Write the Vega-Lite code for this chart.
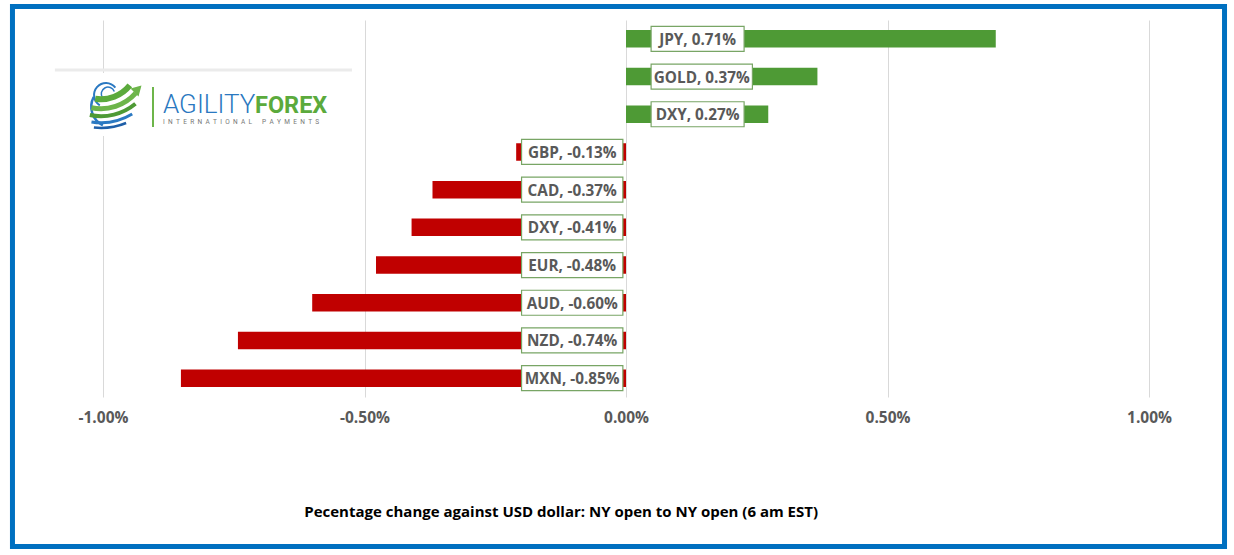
{
  "$schema": "https://vega.github.io/schema/vega-lite/v6.json",
  "width": 1046,
  "height": 377,
  "autosize": {"type": "none"},
  "padding": {"left": 103, "top": 20, "right": 85, "bottom": 158},
  "background": "white",
  "config": {
    "view": {"stroke": null},
    "locale": {"number": {"decimal": ".", "thousands": ",", "grouping": [3], "currency": ["$", ""], "minus": "-"}}
  },
  "resolve": {"scale": {"y": "independent"}},
  "layer": [
    {
      "data": {
        "values": [
          {"label": "JPY, 0.71%", "value": 0.00707},
          {"label": "GOLD, 0.37%", "value": 0.00366},
          {"label": "DXY, 0.27%", "value": 0.00272},
          {"label": "GBP, -0.13%", "value": -0.0021},
          {"label": "CAD, -0.37%", "value": -0.0037},
          {"label": "DXY, -0.41%", "value": -0.0041},
          {"label": "EUR, -0.48%", "value": -0.00478},
          {"label": "AUD, -0.60%", "value": -0.006},
          {"label": "NZD, -0.74%", "value": -0.00742},
          {"label": "MXN, -0.85%", "value": -0.00851}
        ]
      },
      "transform": [
        {"calculate": "(length(datum.label) * 8.3 + 10) / 52300", "as": "w"},
        {"calculate": "datum.value >= 0 ? 0.00048 : -0.00006 - datum.w", "as": "bx1"},
        {"calculate": "datum.value >= 0 ? 0.00048 + datum.w : -0.00006", "as": "bx2"},
        {"calculate": "(datum.bx1 + datum.bx2) / 2", "as": "bxm"}
      ],
      "encoding": {
        "y": {
          "field": "label", "type": "nominal", "sort": null, "axis": null,
          "scale": {"paddingInner": 0.535, "paddingOuter": 0.2675}
        }
      },
      "layer": [
        {
          "mark": {"type": "bar"},
          "encoding": {
            "x": {
              "field": "value", "type": "quantitative",
              "scale": {"domain": [-0.01, 0.01], "nice": false},
              "axis": {
                "values": [-0.01, -0.005, 0, 0.005, 0.01],
                "format": ".2%",
                "title": null,
                "domain": false,
                "ticks": false,
                "grid": true,
                "gridColor": "#D9D9D9",
                "gridWidth": 1,
                "labelFlush": false,
                "labelFont": "Open Sans",
                "labelFontSize": 15.5,
                "labelFontWeight": "bold",
                "labelColor": "#595959",
                "labelPadding": 13
              }
            },
            "color": {"condition": {"test": "datum.value >= 0", "value": "#4E9A35"}, "value": "#C00000"}
          }
        },
        {
          "mark": {"type": "bar", "fill": "white", "stroke": "#78A565", "strokeWidth": 1.2, "height": 25},
          "encoding": {
            "x": {"field": "bx1", "type": "quantitative", "scale": {"domain": [-0.01, 0.01], "nice": false}},
            "x2": {"field": "bx2"}
          }
        },
        {
          "mark": {"type": "text", "font": "Open Sans", "fontSize": 15.3, "fontWeight": "bold", "color": "#595959", "align": "center", "baseline": "middle", "dy": 1},
          "encoding": {
            "x": {"field": "bxm", "type": "quantitative", "scale": {"domain": [-0.01, 0.01], "nice": false}},
            "text": {"field": "label"}
          }
        }
      ]
    },
    {
      "data": {"values": [{}]},
      "layer": [
        {
          "mark": {"type": "rect", "fill": "white"},
          "encoding": {
            "x": {"datum": -0.01088, "type": "quantitative", "scale": {"domain": [-0.01, 0.01], "nice": false}},
            "x2": {"datum": -0.00524},
            "y": {"datum": 1.406, "type": "quantitative", "scale": {"domain": [0, 10], "reverse": true, "nice": false, "zero": false}, "axis": null},
            "y2": {"datum": 3.077}
          }
        },
        {
          "mark": {"type": "rule", "color": "#EBEBEB", "strokeWidth": 3},
          "encoding": {
            "x": {"datum": -0.01092, "type": "quantitative", "scale": {"domain": [-0.01, 0.01], "nice": false}},
            "x2": {"datum": -0.00524},
            "y": {"datum": 1.326, "type": "quantitative", "scale": {"domain": [0, 10], "reverse": true, "nice": false, "zero": false}, "axis": null}
          }
        },
        {
          "mark": {"type": "rule", "color": "#6DB54A", "strokeWidth": 2},
          "encoding": {
            "x": {"datum": -0.009044, "type": "quantitative", "scale": {"domain": [-0.01, 0.01], "nice": false}},
            "y": {"datum": 1.777, "type": "quantitative", "scale": {"domain": [0, 10], "reverse": true, "nice": false, "zero": false}, "axis": null},
            "y2": {"datum": 2.838}
          }
        },
        {
          "mark": {"type": "arc", "radius": 13, "radius2": 11, "theta": -2.6, "theta2": 0.9, "color": "#2B79C2"},
          "encoding": {
            "x": {"datum": -0.009943, "type": "quantitative", "scale": {"domain": [-0.01, 0.01], "nice": false}},
            "y": {"datum": 1.99, "type": "quantitative", "scale": {"domain": [0, 10], "reverse": true, "nice": false, "zero": false}, "axis": null}
          }
        },
        {
          "mark": {"type": "arc", "radius": 7.5, "radius2": 6, "theta": -2.2, "theta2": 1.2, "color": "#2B79C2"},
          "encoding": {
            "x": {"datum": -0.009904, "type": "quantitative", "scale": {"domain": [-0.01, 0.01], "nice": false}},
            "y": {"datum": 1.96, "type": "quantitative", "scale": {"domain": [0, 10], "reverse": true, "nice": false, "zero": false}, "axis": null}
          }
        },
        {
          "mark": {"type": "arc", "radius": 22, "radius2": 19.5, "theta": 3.6, "theta2": 5.2, "color": "#2B79C2"},
          "encoding": {
            "x": {"datum": -0.009828, "type": "quantitative", "scale": {"domain": [-0.01, 0.01], "nice": false}},
            "y": {"datum": 2.30, "type": "quantitative", "scale": {"domain": [0, 10], "reverse": true, "nice": false, "zero": false}, "axis": null}
          }
        },
        {
          "mark": {"type": "arc", "radius": 40, "radius2": 34, "theta": 2.25, "theta2": 3.3, "color": "#5BAA3C"},
          "encoding": {
            "x": {"datum": -0.010038, "type": "quantitative", "scale": {"domain": [-0.01, 0.01], "nice": false}},
            "y": {"datum": 1.12, "type": "quantitative", "scale": {"domain": [0, 10], "reverse": true, "nice": false, "zero": false}, "axis": null}
          }
        },
        {
          "mark": {"type": "arc", "radius": 49, "radius2": 44, "theta": 2.3, "theta2": 3.35, "color": "#6DB54A"},
          "encoding": {
            "x": {"datum": -0.010038, "type": "quantitative", "scale": {"domain": [-0.01, 0.01], "nice": false}},
            "y": {"datum": 1.12, "type": "quantitative", "scale": {"domain": [0, 10], "reverse": true, "nice": false, "zero": false}, "axis": null}
          }
        },
        {
          "mark": {"type": "arc", "radius": 56, "radius2": 52, "theta": 2.45, "theta2": 3.35, "color": "#4E9A35"},
          "encoding": {
            "x": {"datum": -0.010038, "type": "quantitative", "scale": {"domain": [-0.01, 0.01], "nice": false}},
            "y": {"datum": 1.12, "type": "quantitative", "scale": {"domain": [0, 10], "reverse": true, "nice": false, "zero": false}, "axis": null}
          }
        },
        {
          "mark": {"type": "arc", "radius": 62, "radius2": 59, "theta": 2.6, "theta2": 3.3, "color": "#2B79C2"},
          "encoding": {
            "x": {"datum": -0.010038, "type": "quantitative", "scale": {"domain": [-0.01, 0.01], "nice": false}},
            "y": {"datum": 1.12, "type": "quantitative", "scale": {"domain": [0, 10], "reverse": true, "nice": false, "zero": false}, "axis": null}
          }
        },
        {
          "mark": {"type": "arc", "radius": 67, "radius2": 64.5, "theta": 2.75, "theta2": 3.25, "color": "#1F5FA8"},
          "encoding": {
            "x": {"datum": -0.010038, "type": "quantitative", "scale": {"domain": [-0.01, 0.01], "nice": false}},
            "y": {"datum": 1.12, "type": "quantitative", "scale": {"domain": [0, 10], "reverse": true, "nice": false, "zero": false}, "axis": null}
          }
        },
        {
          "mark": {"type": "point", "shape": "triangle-up", "filled": true, "size": 130, "angle": 45, "color": "#6DB54A", "opacity": 1},
          "encoding": {
            "x": {"datum": -0.009331, "type": "quantitative", "scale": {"domain": [-0.01, 0.01], "nice": false}},
            "y": {"datum": 1.83, "type": "quantitative", "scale": {"domain": [0, 10], "reverse": true, "nice": false, "zero": false}, "axis": null}
          }
        },
        {
          "mark": {"type": "text", "text": "AGILITY", "font": "Roboto", "fontSize": 26, "fontWeight": 300, "color": "#2A78C0", "align": "left", "baseline": "alphabetic"},
          "encoding": {
            "x": {"datum": -0.008853, "type": "quantitative", "scale": {"domain": [-0.01, 0.01], "nice": false}},
            "y": {"datum": 2.467, "type": "quantitative", "scale": {"domain": [0, 10], "reverse": true, "nice": false, "zero": false}, "axis": null}
          }
        },
        {
          "mark": {"type": "text", "text": "FOREX", "font": "Roboto", "fontSize": 23.5, "fontWeight": "bold", "color": "#5BAA3C", "align": "left", "baseline": "alphabetic"},
          "encoding": {
            "x": {"datum": -0.007094, "type": "quantitative", "scale": {"domain": [-0.01, 0.01], "nice": false}},
            "y": {"datum": 2.467, "type": "quantitative", "scale": {"domain": [0, 10], "reverse": true, "nice": false, "zero": false}, "axis": null}
          }
        },
        {
          "mark": {"type": "text", "text": "I\u2002N\u2002T\u2002E\u2002R\u2002N\u2002A\u2002T\u2002I\u2002O\u2002N\u2002A\u2002L\u2003\u2002P\u2002A\u2002Y\u2002M\u2002E\u2002N\u2002T\u2002S", "font": "Roboto", "fontSize": 6.5, "color": "#777777", "align": "left", "baseline": "alphabetic"},
          "encoding": {
            "x": {"datum": -0.008853, "type": "quantitative", "scale": {"domain": [-0.01, 0.01], "nice": false}},
            "y": {"datum": 2.759, "type": "quantitative", "scale": {"domain": [0, 10], "reverse": true, "nice": false, "zero": false}, "axis": null}
          }
        },
        {
          "mark": {"type": "text", "text": "Pecentage change against USD dollar: NY open to NY open  (6 am EST)", "font": "Open Sans", "fontSize": 15, "fontWeight": "bold", "color": "#000000", "align": "center", "baseline": "middle"},
          "encoding": {
            "x": {"datum": -0.00124, "type": "quantitative", "scale": {"domain": [-0.01, 0.01], "nice": false}},
            "y": {"datum": 13.05, "type": "quantitative", "scale": {"domain": [0, 10], "reverse": true, "nice": false, "zero": false}, "axis": null}
          }
        },
        {
          "mark": {"type": "rect", "fillOpacity": 0, "stroke": "#0070C0", "strokeWidth": 5},
          "encoding": {
            "x": {"datum": -0.011731, "type": "quantitative", "scale": {"domain": [-0.01, 0.01], "nice": false}},
            "x2": {"datum": 0.011444},
            "y": {"datum": -0.358, "type": "quantitative", "scale": {"domain": [0, 10], "reverse": true, "nice": false, "zero": false}, "axis": null},
            "y2": {"datum": 13.966}
          }
        }
      ]
    }
  ]
}
